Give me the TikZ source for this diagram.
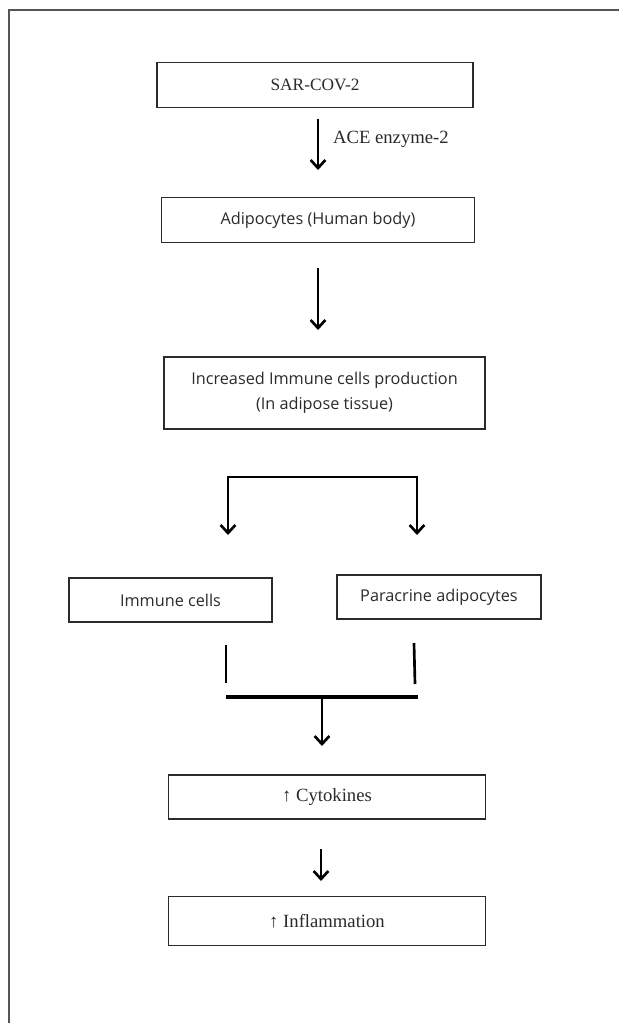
\documentclass[tikz,border=0pt]{standalone}
\usepackage{fontspec}
\setmainfont{Liberation Serif}
\newfontfamily\boxsans{Open Sans}
\usepackage{xcolor}
\usetikzlibrary{arrows.meta}
\definecolor{inkgray}{HTML}{2A2A2A}
\definecolor{framegray}{HTML}{555555}

\tikzset{
  serifbox/.style={draw=inkgray,line width=1.1pt,text=inkgray,align=center,inner sep=0pt,
    font=\fontsize{14}{16}\selectfont},
  sansbox/.style={draw=inkgray,line width=1.1pt,text=inkgray,align=center,inner sep=0pt,
    font=\boxsans\fontsize{12.2}{19}\selectfont},
  tip/.tip={Straight Barb[length=6pt,width=11pt,line width=2pt]},
  flow/.style={line width=2pt,-tip},
  bar/.style={line width=2pt},
}

\begin{document}
\begin{tikzpicture}[x=0.75pt,y=-0.75pt]
        \useasboundingbox (0,0) rectangle (619,1023);
        % frame
        \draw[framegray,line width=1.1pt] (9,1023) -- (9,10) -- (619,10);

        \node[serifbox,minimum width=237pt,minimum height=34pt,font=\fontsize{13}{16}\selectfont] (sars) at (315,85) {SAR-COV-2};
        \node[sansbox,minimum width=235pt,minimum height=34pt] (adipo) at (318,220) {Adipocytes (Human body)};
        \node[sansbox,minimum width=241pt,minimum height=54pt] (incr) at (324.5,393)
             {Increased Immune cells production\\(In adipose tissue)};
        \node[sansbox,minimum width=152pt,minimum height=33pt] (immune) at (170.5,600) {Immune cells};
        \node[sansbox,minimum width=153pt,minimum height=33pt] (para) at (439,597) {Paracrine adipocytes};
        \node[serifbox,minimum width=238pt,minimum height=33pt] (cyto) at (327,797) {↑ Cytokines};
        \node[serifbox,minimum width=238pt,minimum height=37pt] (infl) at (327,921) {↑ Inflammation};

        % arrows between the boxes
        \coordinate (a1) at (318,119);  \coordinate (b1) at (318,170);
        \draw[flow] (a1) -- (b1) node[midway,right,xshift=7pt,yshift=4pt,text=inkgray,font=\fontsize{14}{16}\selectfont] {ACE enzyme-2};
        \coordinate (a2) at (318,268);  \coordinate (b2) at (318,330);
        \draw[flow] (a2) -- (b2);

        % split
        \coordinate (sl) at (228,535);  \coordinate (sr) at (417,535);
        \draw[line width=2pt,tip-tip] (sl) -- (228,477) -- (417,477) -- (sr);

        % join
        \coordinate (tl) at (226,645);  \coordinate (tr) at (414,643);
        \draw[bar] (tl) -- (226,683);
        \draw[bar] (tr) -- (415,684);
        \coordinate (jl) at (226,697);  \coordinate (jr) at (418,697);
        \draw[line width=2.6pt] (jl) -- (jr);
        \coordinate (jm) at (322,697);  \coordinate (je) at (322,746);
        \draw[flow] (jm) -- (je);

        \coordinate (a3) at (321,849);  \coordinate (b3) at (321,881);
        \draw[flow] (a3) -- (b3);
\end{tikzpicture}
\end{document}
